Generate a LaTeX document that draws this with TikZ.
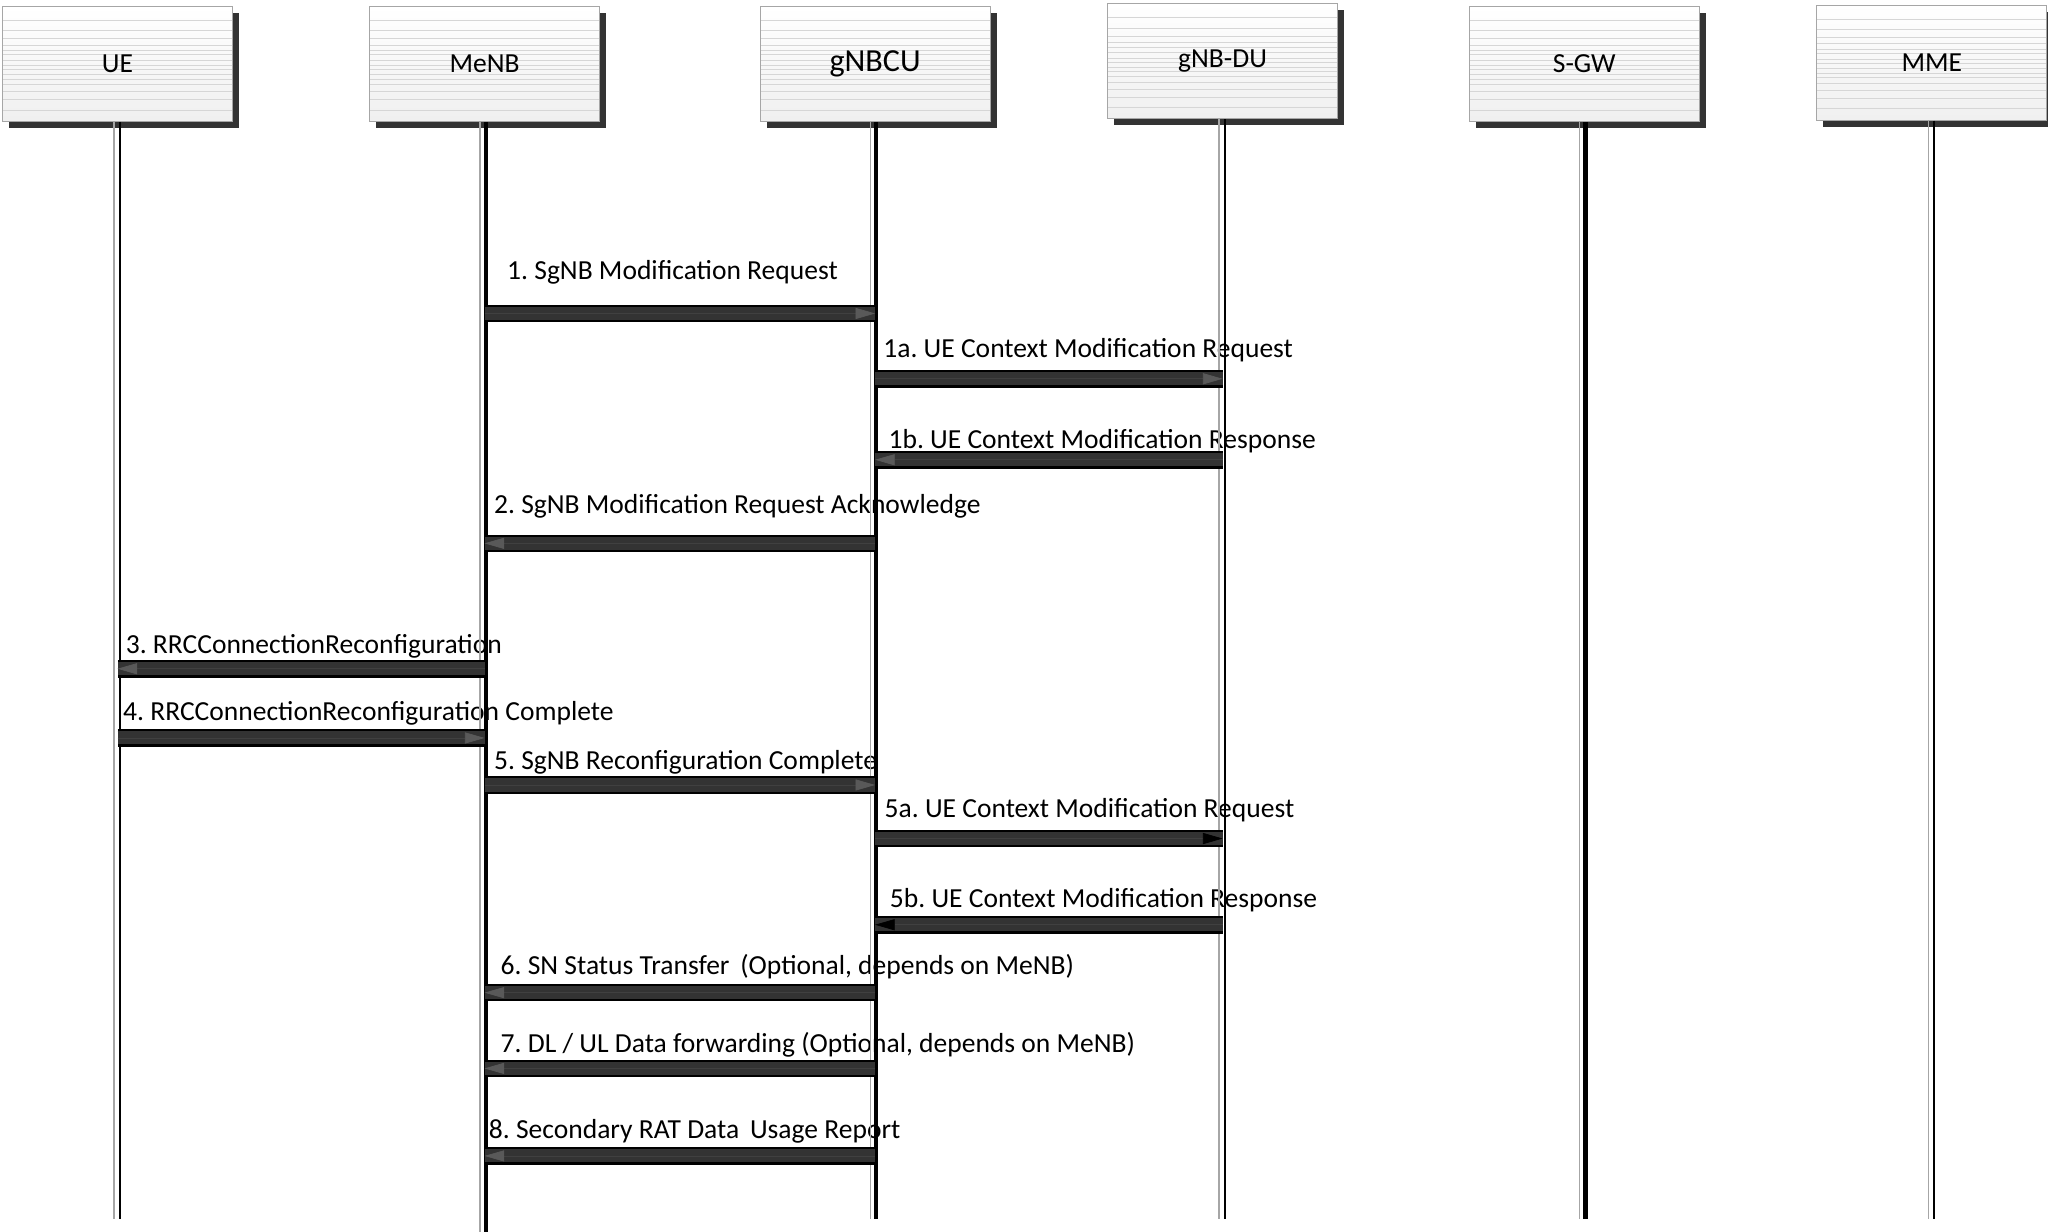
\documentclass[tikz,border=0pt]{standalone}
\usepackage{fontspec}
\setmainfont{Carlito}
\usepackage{tikz}
\usetikzlibrary{arrows.meta,shadows,calc}
\frenchspacing
\definecolor{barcol}{HTML}{333333}
\tikzset{
  entity/.style={draw=gray!70, line width=0.4pt, minimum width=3.52cm, minimum height=1.76cm,
    top color=white, bottom color=gray!12, font=\fontsize{12}{14}\selectfont,
    drop shadow={shadow xshift=0.1cm, shadow yshift=-0.1cm, fill=black!80, opacity=1},
    path picture={\foreach \f in {0.12,0.21,0.28,0.335,0.38,0.42,0.47,0.51,0.55,0.59,0.63,0.68,0.74,0.81,0.9}
      \draw[gray!32, line width=0.35pt] ($(path picture bounding box.north west)!\f!(path picture bounding box.south west)$)
        -- ($(path picture bounding box.north east)!\f!(path picture bounding box.south east)$);}},
  lifegray/.style={draw=gray!70, line width=0.6pt},
  lifethin/.style={draw=black, line width=0.8pt},
  lifethick/.style={draw=black, line width=1.8pt},
  msg/.style={draw=black, line width=0.27cm,
    postaction={draw=barcol, line width=0.2cm},
    postaction={draw=black!75, line width=0.3pt, -{Triangle[length=0.3cm, width=0.17cm, color=#1]}}},
  msg/.default=gray!70!black,
  msglabel/.style={anchor=base west, inner sep=0pt, font=\fontsize{12}{14}\selectfont}
}
\begin{document}
\begin{tikzpicture}[x=0.02cm, y=-0.02cm]
\useasboundingbox (0,0) rectangle (1568,943);

\node[entity] (ue) at (90,49) {UE};
\node[entity] (menb) at (371,49) {MeNB};
\node[entity, font=\fontsize{14}{16}\selectfont] (gnbcu) at (670,49) {gNBCU};
\node[entity] (gnbdu) at (936,47) {gNB-DU};
\node[entity] (sgw) at (1213,49) {S-GW};
\node[entity] (mme) at (1479,48) {MME};

\coordinate (ue-end) at (90,933);
\coordinate (menb-end) at (371,943);
\coordinate (gnbcu-end) at (670,933);
\coordinate (gnbdu-end) at (936,933);
\coordinate (sgw-end) at (1213,933);
\coordinate (mme-end) at (1479,933);

\node[msglabel] (l1) at (388,214) {1. SgNB Modification Request};
\node[msglabel] (l1a) at (676,274) {1a. UE Context Modification Request};
\node[msglabel] (l1b) at (680,343) {1b. UE Context Modification Response};
\node[msglabel] (l2) at (378,393) {2. SgNB Modification Request Acknowledge};
\node[msglabel] (l3) at (96,500) {3. RRCConnectionReconfiguration};
\node[msglabel] (l4) at (94,552) {4. RRCConnectionReconfiguration Complete};
\node[msglabel] (l5) at (378,589) {5. SgNB Reconfiguration Complete};
\node[msglabel] (l5a) at (677,626) {5a. UE Context Modification Request};
\node[msglabel] (l5b) at (681,695) {5b. UE Context Modification Response};
\node[msglabel] (l6) at (383,746) {6. SN Status Transfer \,(Optional, depends on MeNB)};
\node[msglabel] (l7) at (383,806) {7. DL / UL Data forwarding (Optional, depends on MeNB)};
\node[msglabel] (l8) at (374,872) {8. Secondary RAT Data \,Usage Report};

\draw[lifegray] ([xshift=-1.5pt]ue.south) -- ([xshift=-1.5pt]ue-end);
\draw[lifethin] ([xshift=1pt]ue.south) -- ([xshift=1pt]ue-end);
\draw[lifegray] ([xshift=-2pt]menb.south) -- ([xshift=-2pt]menb-end);
\draw[lifethick] ([xshift=0.5pt]menb.south) -- ([xshift=0.5pt]menb-end);
\draw[lifegray] ([xshift=-2pt]gnbcu.south) -- ([xshift=-2pt]gnbcu-end);
\draw[lifethick] ([xshift=0.5pt]gnbcu.south) -- ([xshift=0.5pt]gnbcu-end);
\draw[lifegray] ([xshift=-1.5pt]gnbdu.south) -- ([xshift=-1.5pt]gnbdu-end);
\draw[lifethin] ([xshift=1pt]gnbdu.south) -- ([xshift=1pt]gnbdu-end);
\draw[lifegray] ([xshift=-2pt]sgw.south) -- ([xshift=-2pt]sgw-end);
\draw[lifethick] ([xshift=0.5pt]sgw.south) -- ([xshift=0.5pt]sgw-end);
\draw[lifegray] ([xshift=-1.5pt]mme.south) -- ([xshift=-1.5pt]mme-end);
\draw[lifethin] ([xshift=1pt]mme.south) -- ([xshift=1pt]mme-end);

\draw[msg] (menb |- 0,240) -- (gnbcu |- 0,240);
\draw[msg] (gnbcu |- 0,290) -- (gnbdu |- 0,290);
\draw[msg] (gnbdu |- 0,352) -- (gnbcu |- 0,352);
\draw[msg] (gnbcu |- 0,416) -- (menb |- 0,416);
\draw[msg] (menb |- 0,512) -- (ue |- 0,512);
\draw[msg] (ue |- 0,565) -- (menb |- 0,565);
\draw[msg] (menb |- 0,601) -- (gnbcu |- 0,601);
\draw[msg=black] (gnbcu |- 0,642) -- (gnbdu |- 0,642);
\draw[msg=black] (gnbdu |- 0,708) -- (gnbcu |- 0,708);
\draw[msg] (gnbcu |- 0,760) -- (menb |- 0,760);
\draw[msg] (gnbcu |- 0,818) -- (menb |- 0,818);
\draw[msg] (gnbcu |- 0,885) -- (menb |- 0,885);
\end{tikzpicture}
\end{document}
